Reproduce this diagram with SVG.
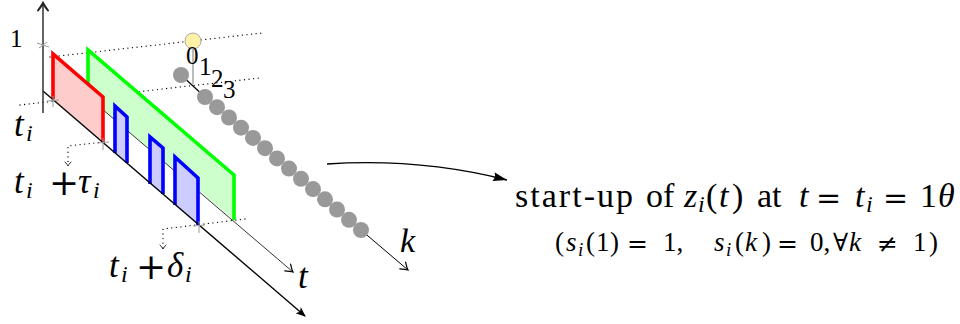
<svg xmlns="http://www.w3.org/2000/svg" width="960" height="324" viewBox="0 0 960 324">
<defs>
<style>
.dot{fill:none;stroke:#000;stroke-width:1.3;stroke-dasharray:0.01 4.6;stroke-linecap:round}
.tick{stroke:#9a9a9a;stroke-width:1;fill:none}
.edge{fill:none;stroke-width:3.6;stroke-linejoin:miter}
.txt{font-family:"Liberation Serif","DejaVu Serif",serif;fill:#000}
.op{font-family:"DejaVu Serif","Liberation Serif",serif;fill:#000}
.it{font-style:italic}
.bead{fill:#999}
</style>
<marker id="to" markerUnits="userSpaceOnUse" viewBox="-10 -6 12 12" refX="0" refY="0" markerWidth="12" markerHeight="12" orient="auto" overflow="visible">
<path d="M-7,-4.5 Q-2.5,-1 0,0 Q-2.5,1 -7,4.5" fill="none" stroke="#000" stroke-width="1.2" stroke-linecap="round"/>
</marker>
<marker id="toV" markerUnits="userSpaceOnUse" viewBox="-10 -6 12 12" refX="0" refY="0" markerWidth="12" markerHeight="12" orient="auto" overflow="visible">
<path d="M-7.5,-5 Q-2.5,-1.2 0,0 Q-2.5,1.2 -7.5,5" fill="none" stroke="#222" stroke-width="2" stroke-linecap="round"/>
</marker>
<marker id="toS" markerUnits="userSpaceOnUse" viewBox="-6 -4 8 8" refX="0" refY="0" markerWidth="8" markerHeight="8" orient="auto" overflow="visible">
<path d="M-4,-3 Q-1.5,-0.7 0,0 Q-1.5,0.7 -4,3" fill="none" stroke="#000" stroke-width="0.8" stroke-linecap="round"/>
</marker>
<marker id="stealth" markerUnits="userSpaceOnUse" viewBox="-12 -6 14 12" refX="0" refY="0" markerWidth="14" markerHeight="12" orient="auto" overflow="visible">
<path d="M1,0 L-9,-4 L-6.5,0 L-9,4 Z" fill="#000"/>
</marker>
<marker id="latex" markerUnits="userSpaceOnUse" viewBox="-16 -6 18 12" refX="0" refY="0" markerWidth="18" markerHeight="12" orient="auto" overflow="visible">
<path d="M0,0 L-14,-4.5 Q-11,0 -14,4.5 Z" fill="#000"/>
</marker>
</defs>

<g id="guides">
<path class="dot" d="M50,57 L262,33"/>
<path class="dot" d="M20,105 L260,78"/>
<path class="dot" d="M103,142 L68,146 L68,166" marker-end="url(#toS)"/>
<path class="dot" d="M245,219 L163,229 L163,249" marker-end="url(#toS)"/>
</g>

<g id="green-window">
<polygon points="88,50 234,175 234,220 88,97" fill="#ccffcc"/>
<polyline class="edge" points="88,97 88,50 234,175 234,220" stroke="#00ff00"/>
</g>

<g id="connectors">
<path d="M88,97 L293,272" stroke="#000" stroke-width="0.8" fill="none" marker-end="url(#to)"/>
</g>

<g id="red-window">
<polygon points="53,54 103,97 103,142 53,99" fill="#ffcccc"/>
<polyline class="edge" points="53,99 53,54 103,97 103,142" stroke="#ff0000"/>
</g>

<g id="blue-pulses">
<polygon points="115,106 127,117 127,163 115,153" fill="#ccccff"/>
<polyline class="edge" points="115,153 115,106 127,117 127,163" stroke="#0000ff"/>
<polygon points="150,137 163,148 163,194 150,184" fill="#ccccff"/>
<polyline class="edge" points="150,184 150,137 163,148 163,194" stroke="#0000ff"/>
<polygon points="175,157 198,178 198,225 175,205" fill="#ccccff"/>
<polyline class="edge" points="175,205 175,157 198,178 198,225" stroke="#0000ff"/>
</g>

<g id="axes">
<path d="M43,91 L305,316" stroke="#000" stroke-width="1.4" fill="none" marker-end="url(#stealth)"/>
<path d="M43,113 L43,3" stroke="#333" stroke-width="1.5" fill="none" marker-end="url(#toV)"/>
<path class="tick" d="M37,43 L49,47 M39,48 L47,42"/>
<path class="tick" d="M53,96 L53,107 M47,101 L59,100"/>
<path class="tick" d="M103,138 L103,150 M97,143 L109,142"/>
<path class="tick" d="M199,221 L199,233 M193,226 L205,225"/>
</g>

<g id="k-axis">
<path d="M181,75 L205,97" stroke="#000" stroke-width="1.2"/>
<path d="M361,230 L408,270" stroke="#000" stroke-width="1" fill="none" marker-end="url(#to)"/>
<path d="M193,41 L193,84" stroke="#aaa" stroke-width="1.6"/>
<circle class="bead" cx="181" cy="75" r="8"/>
<circle cx="193" cy="41" r="8" fill="#fff2a8" stroke="#aaa" stroke-width="1"/>
<circle class="bead" cx="205" cy="97" r="8"/>
<circle class="bead" cx="217" cy="107.2" r="8"/>
<circle class="bead" cx="229" cy="117.5" r="8"/>
<circle class="bead" cx="241" cy="127.7" r="8"/>
<circle class="bead" cx="253" cy="137.9" r="8"/>
<circle class="bead" cx="265" cy="148.2" r="8"/>
<circle class="bead" cx="277" cy="158.4" r="8"/>
<circle class="bead" cx="289" cy="168.6" r="8"/>
<circle class="bead" cx="301" cy="178.8" r="8"/>
<circle class="bead" cx="313" cy="189.1" r="8"/>
<circle class="bead" cx="325" cy="199.3" r="8"/>
<circle class="bead" cx="337" cy="209.5" r="8"/>
<circle class="bead" cx="349" cy="219.8" r="8"/>
<circle class="bead" cx="361" cy="230" r="8"/>
</g>

<g id="curved-arrow">
<path d="M327,164 Q420,158 507,180" stroke="#000" stroke-width="1.3" fill="none" marker-end="url(#latex)"/>
</g>

<g id="labels">
<text class="txt" x="10" y="47" font-size="25">1</text>
<text class="txt" font-size="25"><tspan x="186" y="64">0</tspan><tspan x="199" y="75">1</tspan><tspan x="211" y="87">2</tspan><tspan x="223" y="98">3</tspan></text>
<text class="txt it" font-size="35"><tspan x="14" y="136">t</tspan><tspan x="26" y="141" font-size="24">i</tspan></text>
<text class="txt it" font-size="35"><tspan x="14" y="193">t</tspan><tspan x="26" y="198" font-size="24">i</tspan><tspan x="78" y="193">τ</tspan><tspan x="93" y="198" font-size="24">i</tspan></text>
<text class="op" x="64" y="195" font-size="36" text-anchor="middle">+</text>
<text class="txt it" font-size="35"><tspan x="109" y="277">t</tspan><tspan x="121" y="282" font-size="24">i</tspan><tspan x="167" y="277">δ</tspan><tspan x="185" y="282" font-size="24">i</tspan></text>
<text class="op" x="151" y="279" font-size="36" text-anchor="middle">+</text>
<text class="txt it" x="298" y="288" font-size="35">t</text>
<text class="txt it" x="400" y="252" font-size="34">k</text>
</g>

<g id="caption">
<text class="txt" font-size="34"><tspan x="515" y="207" textLength="118" lengthAdjust="spacing">start-up</tspan><tspan x="646" y="207">of</tspan><tspan x="684" y="207" font-style="italic">z</tspan><tspan x="698" y="212" font-size="24" font-style="italic">i</tspan><tspan x="706" y="207">(</tspan><tspan x="719" y="207" font-style="italic">t</tspan><tspan x="732" y="207">)</tspan><tspan x="757" y="207">at</tspan><tspan x="799" y="207" font-style="italic">t</tspan><tspan x="855" y="207" font-style="italic">t</tspan><tspan x="866" y="212" font-size="24" font-style="italic">i</tspan><tspan x="920" y="207">1</tspan><tspan x="938" y="207" font-style="italic">θ</tspan></text>
<text class="op" font-size="30"><tspan x="816" y="208">=</tspan><tspan x="883" y="208">=</tspan></text>
<text class="txt" font-size="27"><tspan x="555" y="251">(</tspan><tspan x="566" y="251" font-style="italic">s</tspan><tspan x="578" y="256" font-size="19" font-style="italic">i</tspan><tspan x="586" y="251">(</tspan><tspan x="596" y="251">1</tspan><tspan x="610" y="251">)</tspan><tspan x="663" y="251">1,</tspan><tspan x="714" y="251" font-style="italic">s</tspan><tspan x="726" y="256" font-size="19" font-style="italic">i</tspan><tspan x="735" y="251">(</tspan><tspan x="745" y="251" font-style="italic">k</tspan><tspan x="762" y="251">)</tspan><tspan x="810" y="251">0,</tspan><tspan x="849" y="251" font-style="italic">k</tspan><tspan x="913" y="251">1</tspan><tspan x="929" y="251">)</tspan></text>
<text class="op" font-size="25"><tspan x="627" y="252">=</tspan><tspan x="777" y="252">=</tspan><tspan x="833" y="251">∀</tspan><tspan x="877" y="252">≠</tspan></text>
</g>
</svg>
